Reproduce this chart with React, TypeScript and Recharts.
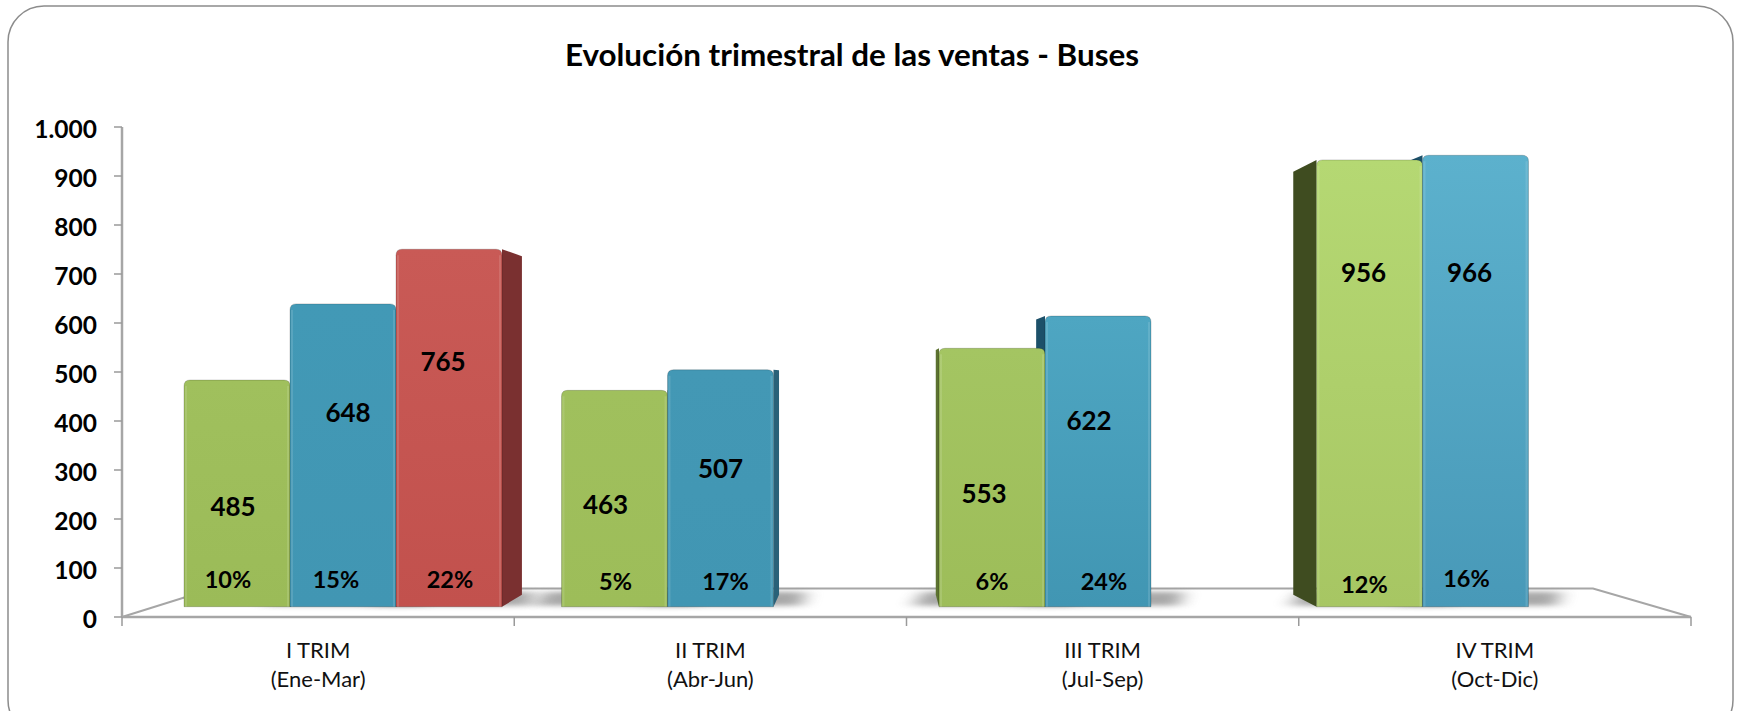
import React from 'react';
import { BarChart, Bar, XAxis, YAxis, LabelList } from 'recharts';

const categories = [['I TRIM', '(Ene-Mar)'], ['II TRIM', '(Abr-Jun)'], ['III TRIM', '(Jul-Sep)'], ['IV TRIM', '(Oct-Dic)']];
const periods = ['I', 'II', 'III', 'IV'];
const seriesA = [485, 463, 553, 956];
const seriesB = [648, 507, 622, 966];
const seriesC = [765, null, null, null];
const shareA = ['10%', '5%', '6%', '12%'];
const shareB = ['15%', '17%', '24%', '16%'];
const shareC = ['22%', '', '', ''];
const yTicks = [0, 100, 200, 300, 400, 500, 600, 700, 800, 900, 1000];
const xTicks = [0, 0.5, 1, 1.5, 2, 2.5, 3, 3.5, 4];

const data = periods.map((p, i) => ({ period: p, slot: i, a: seriesA[i], b: seriesB[i], c: seriesC[i] }));

// hand placed labels in the original, offset from the bar centre
const valueNudge: any = {
  a: [[-4, 13], [-9, 5], [-8, 15], [-6, -111]],
  b: [[5, -43], [0, -20], [-9, -41], [-6, -109]],
  c: [[-6, -67]],
};
const shareNudge: any = {
  a: [[-9, 28], [1, 26], [0, 26], [-5, 23]],
  b: [[-7, 28], [5, 26], [6, 26], [-9, 29]],
  c: [[1, 28]],
};

const FONT = 'Lato, sans-serif';
// one point perspective of the 3d box
const VX = 878;
const VY = 381;
const DEPTH = 0.053;

const palette: any = {
  a: { top: ['#a0c05d', '#a0c05d', '#a4c562', '#b5d873'], bottom: ['#9bbb58', '#9dbd59', '#9dbd59', '#a7c663'], side: ['#3f4c20', '#5c7230', '#5c7230', '#3f4c20'] },
  b: { top: ['#4299b6', '#4398b5', '#4ea6c2', '#5cb1cd'], bottom: ['#4196b3', '#4196b3', '#4196b3', '#4899b8'], side: ['#1f5a74', '#2a6178', '#1c5069', '#1c5069'] },
  c: { top: ['#c95a56', '', '', ''], bottom: ['#c2514d', '', '', ''], side: ['#7a3030', '', '', ''] },
};

const back = (x: number, y: number) => [x + (VX - x) * DEPTH, y + (VY - y) * DEPTH];

const SideFace = (key: string) => (props: any) => {
  const { x, y, width, height, index } = props;
  if (!height) return null;
  const bottom = y + height;
  const edge = x + width < VX ? x + width : x;
  const [bx, bt] = back(edge, y);
  const [, bb] = back(edge, bottom);
  const sx0 = x - 26;
  const sx1 = x + width + 28;
  const hasShadow = !(key === 'a' && index === 0);
  return (
    <g>
      {hasShadow && (
        <polygon points={`${sx0},${bottom - 1} ${sx0 + 10},${bottom - 15} ${sx1 + 4},${bottom - 15} ${sx1},${bottom - 1}`} fill="#707070" opacity={0.6} filter="url(#floorBlur)" />
      )}
      <polygon points={`${edge},${y} ${bx},${bt} ${bx},${bb} ${edge},${bottom}`} fill={palette[key].side[index]} />
    </g>
  );
};

const FrontFace = (key: string) => (props: any) => {
  const { x, y, width, height, index } = props;
  if (!height) return null;
  const r = 6;
  const d = `M${x},${y + height} V${y + r} Q${x},${y} ${x + r},${y} H${x + width - r} Q${x + width},${y} ${x + width},${y + r} V${y + height} Z`;
  return (
    <g>
      <path d={d} fill={`url(#face-${key}-${index})`} />
      <path d={d} fill="none" stroke="#000" strokeOpacity={0.18} strokeWidth={1} />
      <rect x={x + 1} y={y + r} width={2} height={height - r} fill="#fff" opacity={0.12} />
      <rect x={x + width - 3} y={y + r} width={2} height={height - r} fill="#fff" opacity={0.12} />
    </g>
  );
};

const barLabels = (key: string, shares: string[]) => (props: any) => {
  const { x, y, width, height, value, index } = props;
  if (value == null) return null;
  const [vx, vy] = valueNudge[key][index];
  const [sx, sy] = shareNudge[key][index];
  const cx = x + width / 2;
  const style: any = { fontFamily: FONT, fontWeight: 700, fontSize: 26, fill: '#000' };
  return (
    <g>
      <text x={cx + vx} y={y + height / 2 + vy} textAnchor="middle" dominantBaseline="central" style={style}>{value}</text>
      <text x={cx + sx} y={y + height - sy} textAnchor="middle" dominantBaseline="central" style={{ ...style, fontSize: 23.5 }}>{shares[index]}</text>
    </g>
  );
};

const YTick = (props: any) => {
  const { x, y, payload } = props;
  const label = payload.value >= 1000 ? '1.000' : String(payload.value);
  return (
    <text x={x} y={y + 1} textAnchor="end" dominantBaseline="central" style={{ fontFamily: FONT, fontWeight: 700, fontSize: 24.5, fill: '#000' }}>{label}</text>
  );
};

const XTick = (props: any) => {
  const { x, y, payload } = props;
  if (Number.isInteger(payload.value)) {
    return <line x1={x} x2={x} y1={y - 8} y2={y + 1} stroke="#9a9a9a" strokeWidth={1.5} />;
  }
  const [line1, line2] = categories[Math.floor(payload.value)];
  const style: any = { fontFamily: FONT, fontSize: 22, fill: '#111' };
  return (
    <g>
      <text x={x} y={y + 24} textAnchor="middle" dominantBaseline="central" style={style}>{line1}</text>
      <text x={x} y={y + 53} textAnchor="middle" dominantBaseline="central" style={style}>{line2}</text>
    </g>
  );
};

const series = [
  { key: 'a', shares: shareA },
  { key: 'b', shares: shareB },
  { key: 'c', shares: shareC },
];

export default function App() {
  return (
    <div style={{ position: 'absolute', left: 0, top: 0, width: 1741, height: 711, overflow: 'hidden', background: '#fff' }}>
      <BarChart width={1741} height={711} data={data} barGap={0} barCategoryGap={29.5} margin={{ top: 127, right: 50, left: 0, bottom: 0 }}>
        <defs>
          <filter id="floorBlur" x="-30%" y="-150%" width="160%" height="400%">
            <feGaussianBlur stdDeviation="9 2.5" />
          </filter>
          {series.map((s) =>
            periods.map((_, i) => (
              <linearGradient key={s.key + i} id={`face-${s.key}-${i}`} x1="0" y1="0" x2="0" y2="1">
                <stop offset="0%" stopColor={palette[s.key].top[i]} />
                <stop offset="100%" stopColor={palette[s.key].bottom[i]} />
              </linearGradient>
            ))
          )}
        </defs>

        <rect x={8} y={6} width={1725} height={730} rx={36} fill="#fff" stroke="#8c8c8c" strokeWidth={1.5} />
        <text x={852} y={54} textAnchor="middle" dominantBaseline="central" style={{ fontFamily: FONT, fontWeight: 700, fontSize: 31.4, fill: '#000' }}>
          Evolución trimestral de las ventas - Buses
        </text>

        {/* floor of the 3d chart */}
        <polygon points="122,617 213,588.5 1593,588.5 1691,617" fill="#fff" stroke="#a6a6a6" strokeWidth={2} />

        <XAxis
          xAxisId="edges"
          type="number"
          dataKey="slot"
          domain={[0, 4]}
          ticks={xTicks}
          interval={0}
          height={94}
          allowDataOverflow
          axisLine={{ stroke: '#a6a6a6', strokeWidth: 2.5 }}
          tickLine={false}
          tick={<XTick />}
        />
        <XAxis xAxisId="side" dataKey="period" hide padding={{ left: 32.5, right: 26.5 }} />
        <XAxis xAxisId="front" dataKey="period" hide padding={{ left: 32.5, right: 26.5 }} />

        <YAxis
          yAxisId="axis"
          domain={[0, 1000]}
          ticks={yTicks}
          interval={0}
          width={122}
          allowDataOverflow
          axisLine={{ stroke: '#a6a6a6', strokeWidth: 2.5 }}
          tickLine={{ stroke: '#9a9a9a', strokeWidth: 1.5 }}
          tickSize={8}
          tickMargin={17}
          tick={<YTick />}
        />
        {/* the bars stand on the front edge of the floor, so they get their own scale */}
        <YAxis yAxisId="bars" hide domain={[-22, 1026.5]} allowDataOverflow />

        {series.map((s) => (
          <Bar key={'side' + s.key} xAxisId="side" yAxisId="bars" dataKey={s.key} isAnimationActive={false} shape={SideFace(s.key)} />
        ))}
        {series.map((s) => (
          <Bar key={'front' + s.key} xAxisId="front" yAxisId="bars" dataKey={s.key} isAnimationActive={false} shape={FrontFace(s.key)}>
            <LabelList dataKey={s.key} content={barLabels(s.key, s.shares)} />
          </Bar>
        ))}
      </BarChart>
    </div>
  );
}
